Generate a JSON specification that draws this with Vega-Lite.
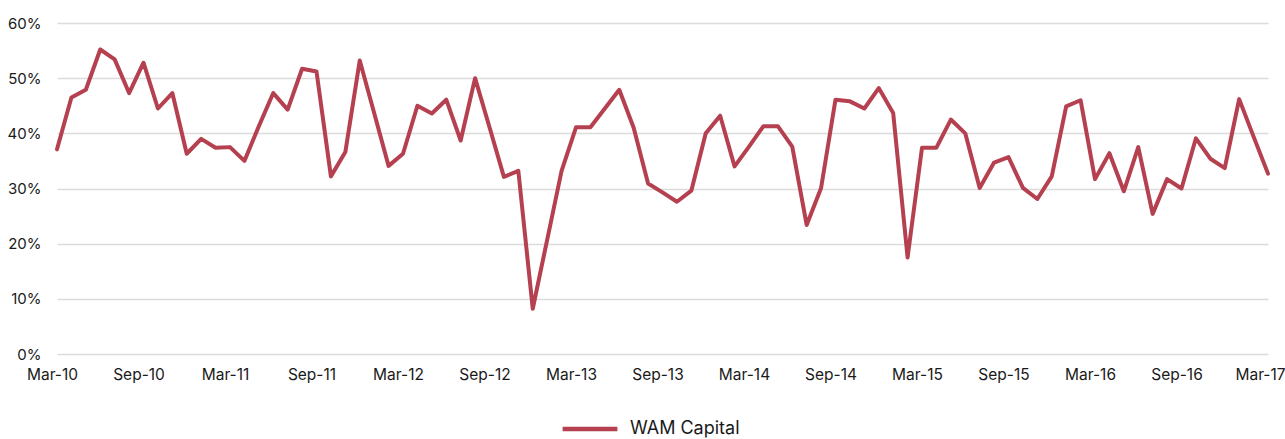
{
  "$schema": "https://vega.github.io/schema/vega-lite/v6.json",
  "width": 1211,
  "height": 331,
  "autosize": {"type": "none"},
  "padding": {"left": 57, "top": 23, "right": 17, "bottom": 85},
  "background": "white",
  "config": {
    "view": {"stroke": null},
    "font": "Inter",
    "axis": {"labelFont": "Inter", "labelColor": "#1a1a1a", "labelFontWeight": "normal"},
    "legend": {"labelFont": "Inter"}
  },
  "data": {
    "values": [
      {"month": "Mar-10", "series": "WAM Capital", "value": 0.371},
      {"month": "Apr-10", "series": "WAM Capital", "value": 0.465},
      {"month": "May-10", "series": "WAM Capital", "value": 0.479},
      {"month": "Jun-10", "series": "WAM Capital", "value": 0.552},
      {"month": "Jul-10", "series": "WAM Capital", "value": 0.534},
      {"month": "Aug-10", "series": "WAM Capital", "value": 0.473},
      {"month": "Sep-10", "series": "WAM Capital", "value": 0.528},
      {"month": "Oct-10", "series": "WAM Capital", "value": 0.445},
      {"month": "Nov-10", "series": "WAM Capital", "value": 0.473},
      {"month": "Dec-10", "series": "WAM Capital", "value": 0.363},
      {"month": "Jan-11", "series": "WAM Capital", "value": 0.390},
      {"month": "Feb-11", "series": "WAM Capital", "value": 0.374},
      {"month": "Mar-11", "series": "WAM Capital", "value": 0.375},
      {"month": "Apr-11", "series": "WAM Capital", "value": 0.350},
      {"month": "May-11", "series": "WAM Capital", "value": 0.413},
      {"month": "Jun-11", "series": "WAM Capital", "value": 0.473},
      {"month": "Jul-11", "series": "WAM Capital", "value": 0.443},
      {"month": "Aug-11", "series": "WAM Capital", "value": 0.517},
      {"month": "Sep-11", "series": "WAM Capital", "value": 0.512},
      {"month": "Oct-11", "series": "WAM Capital", "value": 0.322},
      {"month": "Nov-11", "series": "WAM Capital", "value": 0.366},
      {"month": "Dec-11", "series": "WAM Capital", "value": 0.532},
      {"month": "Jan-12", "series": "WAM Capital", "value": 0.437},
      {"month": "Feb-12", "series": "WAM Capital", "value": 0.341},
      {"month": "Mar-12", "series": "WAM Capital", "value": 0.363},
      {"month": "Apr-12", "series": "WAM Capital", "value": 0.450},
      {"month": "May-12", "series": "WAM Capital", "value": 0.436},
      {"month": "Jun-12", "series": "WAM Capital", "value": 0.461},
      {"month": "Jul-12", "series": "WAM Capital", "value": 0.387},
      {"month": "Aug-12", "series": "WAM Capital", "value": 0.500},
      {"month": "Sep-12", "series": "WAM Capital", "value": 0.411},
      {"month": "Oct-12", "series": "WAM Capital", "value": 0.321},
      {"month": "Nov-12", "series": "WAM Capital", "value": 0.332},
      {"month": "Dec-12", "series": "WAM Capital", "value": 0.082},
      {"month": "Jan-13", "series": "WAM Capital", "value": 0.207},
      {"month": "Feb-13", "series": "WAM Capital", "value": 0.332},
      {"month": "Mar-13", "series": "WAM Capital", "value": 0.411},
      {"month": "Apr-13", "series": "WAM Capital", "value": 0.411},
      {"month": "May-13", "series": "WAM Capital", "value": 0.445},
      {"month": "Jun-13", "series": "WAM Capital", "value": 0.479},
      {"month": "Jul-13", "series": "WAM Capital", "value": 0.410},
      {"month": "Aug-13", "series": "WAM Capital", "value": 0.309},
      {"month": "Sep-13", "series": "WAM Capital", "value": 0.293},
      {"month": "Oct-13", "series": "WAM Capital", "value": 0.276},
      {"month": "Nov-13", "series": "WAM Capital", "value": 0.296},
      {"month": "Dec-13", "series": "WAM Capital", "value": 0.400},
      {"month": "Jan-14", "series": "WAM Capital", "value": 0.432},
      {"month": "Feb-14", "series": "WAM Capital", "value": 0.340},
      {"month": "Mar-14", "series": "WAM Capital", "value": 0.376},
      {"month": "Apr-14", "series": "WAM Capital", "value": 0.413},
      {"month": "May-14", "series": "WAM Capital", "value": 0.413},
      {"month": "Jun-14", "series": "WAM Capital", "value": 0.376},
      {"month": "Jul-14", "series": "WAM Capital", "value": 0.234},
      {"month": "Aug-14", "series": "WAM Capital", "value": 0.301},
      {"month": "Sep-14", "series": "WAM Capital", "value": 0.461},
      {"month": "Oct-14", "series": "WAM Capital", "value": 0.458},
      {"month": "Nov-14", "series": "WAM Capital", "value": 0.445},
      {"month": "Dec-14", "series": "WAM Capital", "value": 0.482},
      {"month": "Jan-15", "series": "WAM Capital", "value": 0.437},
      {"month": "Feb-15", "series": "WAM Capital", "value": 0.175},
      {"month": "Mar-15", "series": "WAM Capital", "value": 0.374},
      {"month": "Apr-15", "series": "WAM Capital", "value": 0.374},
      {"month": "May-15", "series": "WAM Capital", "value": 0.425},
      {"month": "Jun-15", "series": "WAM Capital", "value": 0.400},
      {"month": "Jul-15", "series": "WAM Capital", "value": 0.301},
      {"month": "Aug-15", "series": "WAM Capital", "value": 0.347},
      {"month": "Sep-15", "series": "WAM Capital", "value": 0.357},
      {"month": "Oct-15", "series": "WAM Capital", "value": 0.301},
      {"month": "Nov-15", "series": "WAM Capital", "value": 0.281},
      {"month": "Dec-15", "series": "WAM Capital", "value": 0.322},
      {"month": "Jan-16", "series": "WAM Capital", "value": 0.449},
      {"month": "Feb-16", "series": "WAM Capital", "value": 0.460},
      {"month": "Mar-16", "series": "WAM Capital", "value": 0.317},
      {"month": "Apr-16", "series": "WAM Capital", "value": 0.364},
      {"month": "May-16", "series": "WAM Capital", "value": 0.295},
      {"month": "Jun-16", "series": "WAM Capital", "value": 0.375},
      {"month": "Jul-16", "series": "WAM Capital", "value": 0.254},
      {"month": "Aug-16", "series": "WAM Capital", "value": 0.317},
      {"month": "Sep-16", "series": "WAM Capital", "value": 0.300},
      {"month": "Oct-16", "series": "WAM Capital", "value": 0.391},
      {"month": "Nov-16", "series": "WAM Capital", "value": 0.354},
      {"month": "Dec-16", "series": "WAM Capital", "value": 0.337},
      {"month": "Jan-17", "series": "WAM Capital", "value": 0.462},
      {"month": "Feb-17", "series": "WAM Capital", "value": 0.394},
      {"month": "Mar-17", "series": "WAM Capital", "value": 0.327}
    ]
  },
  "mark": {"type": "line", "strokeWidth": 4, "strokeJoin": "round", "strokeCap": "round"},
  "encoding": {
    "x": {
      "field": "month",
      "type": "ordinal",
      "sort": null,
      "scale": {"type": "point", "padding": 0},
      "axis": {
        "title": null,
        "values": ["Mar-10", "Sep-10", "Mar-11", "Sep-11", "Mar-12", "Sep-12", "Mar-13", "Sep-13", "Mar-14", "Sep-14", "Mar-15", "Sep-15", "Mar-16", "Sep-16", "Mar-17"],
        "labelAngle": 0,
        "labelFontSize": 15.5,
        "labelPadding": 13,
        "labelOffset": {"condition": {"test": "datum.label == 'Mar-17'", "value": -8}, "value": -5},
        "ticks": false,
        "domain": false,
        "grid": false,
        "labelOverlap": false
      }
    },
    "y": {
      "field": "value",
      "type": "quantitative",
      "scale": {"domain": [0, 0.6], "nice": false, "zero": true},
      "axis": {
        "title": null,
        "values": [0, 0.1, 0.2, 0.3, 0.4, 0.5, 0.6],
        "format": ".0%",
        "labelFontSize": 15,
        "labelPadding": 16,
        "ticks": false,
        "domain": false,
        "grid": true,
        "gridColor": "#dcdcdc",
        "gridWidth": 1.5
      }
    },
    "color": {
      "field": "series",
      "type": "nominal",
      "scale": {"range": ["#b5404f"]},
      "legend": {
        "title": null,
        "orient": "none",
        "legendX": 503,
        "legendY": 376,
        "symbolType": "stroke",
        "symbolSize": 3000,
        "symbolStrokeWidth": 4.5,
        "labelFontSize": 18,
        "labelColor": "#1a1a1a",
        "labelOffset": 10
      }
    }
  }
}
